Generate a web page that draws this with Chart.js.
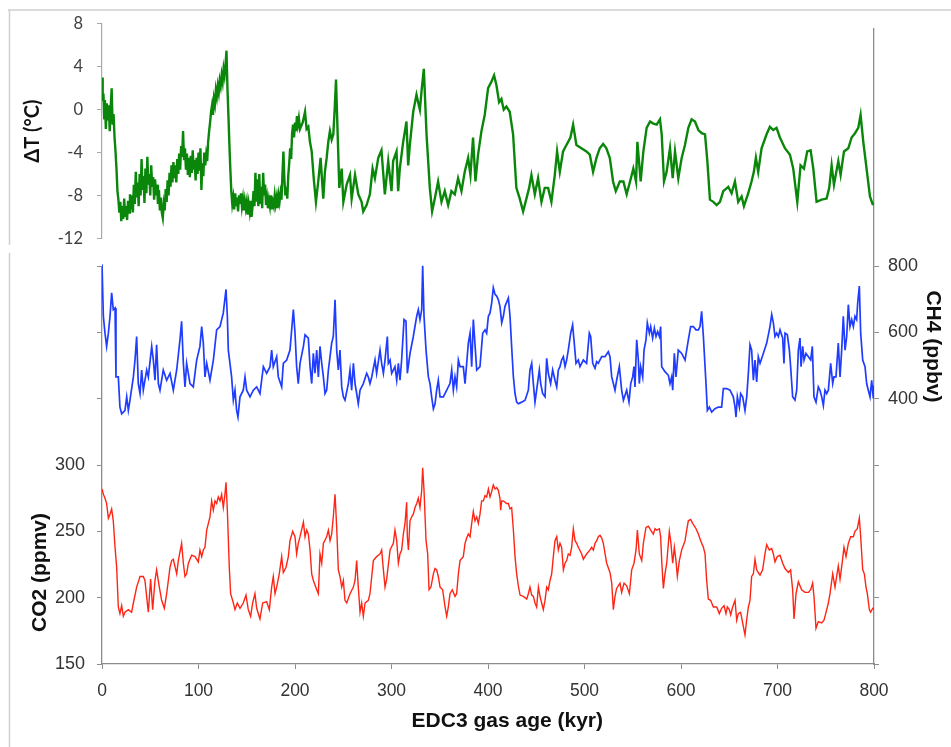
<!DOCTYPE html>
<html>
<head>
<meta charset="utf-8">
<title>EPICA Dome C: ΔT, CH4, CO2</title>
<script src="https://cdn.jsdelivr.net/npm/chart.js@4.4.1/dist/chart.umd.min.js"></script>
<style>
  html, body { margin: 0; padding: 0; background: #fff; }
  #chart { display: block; }
</style>
</head>
<body>
<canvas id="chart" width="951" height="747"></canvas>
<script>
// [age kyr, value]
const tempRecord = [
  [0,3.0],[0.7,0.8],[1.5,1.5],[2.3,-0.8],[3,0.9],[4,-1.8],[5,0.6],[6,-1.0],[7,0.4],[8,-2.0],[9,0.2],[10,2.0],
  [11,-1.4],[12,-0.4],[13,-2.6],[14,-3.9],[15,-5.5],[16,-7.6],[17,-8.4],[18,-9.6],[19,-8.6],[20,-10.4],
  [21,-9.0],[22,-10.2],[23,-8.3],[24,-10.0],[25,-9.0],[26,-10.3],[27,-8.5],[28,-9.6],[29,-7.9],[30,-9.3],
  [31,-8.0],[32,-9.6],[33,-7.0],[34,-8.8],[35,-5.8],[36,-8.2],[37,-6.8],[38,-9.0],[39,-6.0],[40,-8.0],
  [41,-4.6],[42,-7.5],[43,-6.2],[44,-8.7],[45,-5.5],[46,-7.8],[47,-4.4],[48,-7.0],[49,-6.0],[50,-8.0],
  [51,-5.2],[52,-7.2],[53,-6.3],[54,-8.4],[55,-6.5],[56,-8.0],[57,-7.0],[58,-8.8],[59,-7.5],[60,-9.4],
  [61,-8.2],[62,-9.6],[63,-10.1],[64,-8.8],[65,-9.4],[66,-7.4],[67,-8.6],[68,-6.6],[69,-8.0],[70,-5.9],
  [71,-7.2],[72,-5.2],[73,-6.8],[74,-4.9],[75,-6.4],[76,-5.2],[77,-6.8],[78,-4.6],[79,-6.0],[80,-4.1],
  [81,-5.6],[82,-3.4],[83,-4.4],[84,-2.0],[85,-4.6],[86,-3.6],[87,-5.6],[88,-4.1],[89,-6.1],[90,-4.5],
  [91,-6.3],[92,-4.3],[93,-5.9],[94,-3.8],[95,-5.6],[96,-4.7],[97,-6.6],[98,-4.5],[99,-6.0],[100,-4.0],
  [101,-5.7],[102,-3.6],[103,-7.5],[104,-5.0],[105,-6.2],[106,-4.0],[107,-5.2],[108,-4.2],[109,-4.8],[110,-3.0],
  [111,-2.0],[112,-1.2],[113,-0.2],[114,0.4],[115,-0.5],[116,1.0],[117,0.5],[118,1.8],[119,1.2],[120,2.2],
  [121,1.6],[122,2.7],[123,2.2],[124,3.2],[125,2.6],[126,3.8],[127,3.2],[128,4.2],[129,5.5],[130,2.0],
  [131,-0.5],[132,-3.2],[133,-5.6],[134,-7.6],[135,-8.8],[136,-8.2],[137,-9.3],[138,-7.8],[139,-9.0],[140,-8.2],
  [141,-9.5],[142,-8.0],[143,-8.8],[144,-7.8],[145,-9.0],[146,-8.3],[147,-9.4],[148,-8.5],[149,-9.2],[150,-8.6],
  [151,-9.8],[152,-8.8],[153,-9.5],[154,-8.5],[155,-10.0],[156,-9.0],[157,-7.6],[158,-9.0],[159,-5.9],[160,-8.6],
  [161,-6.5],[162,-9.0],[163,-6.0],[164,-8.8],[165,-7.2],[166,-9.2],[167,-5.9],[168,-8.0],[169,-7.0],[170,-8.9],
  [171,-8.2],[172,-9.2],[173,-8.4],[174,-9.0],[175,-8.0],[176,-9.3],[177,-8.6],[178,-9.0],[179,-8.0],[180,-8.8],
  [181,-8.2],[182,-9.2],[183,-8.0],[184,-8.6],[185,-7.8],[186,-8.4],[187,-6.0],[188,-3.9],[189,-6.5],[190,-8.0],
  [191,-7.2],[192,-8.3],[193,-6.2],[194,-5.0],[195,-3.6],[196,-4.6],[197,-2.2],[198,-1.4],[199,-2.6],[200,-1.2],
  [201,-2.0],[202,-0.6],[203,-1.4],[204,-0.8],[205.2,-1.8],[208,-1.2],[210.4,-0.2],[212,-1.8],[213.8,-1.6],
  [215.5,-3.0],[217.3,-3.9],[219.5,-6.5],[221.7,-8.6],[224.1,-6.7],[226.5,-4.5],[229.3,-8.3],[231,-5.8],
  [232.8,-4.5],[234.5,-3.0],[236.2,-2.0],[238,-2.8],[239.7,-2.3],[241.1,0.0],[242.5,2.8],[244.2,-2.3],
  [245.9,-7.3],[248.4,-5.5],[250.1,-8.6],[253.5,-7.0],[257,-6.1],[258.7,-8.3],[262.2,-6.1],[265.6,-7.9],
  [269,-8.6],[270.7,-9.5],[274.2,-8.9],[277.6,-7.9],[280.4,-5.5],[282.8,-6.4],[286.3,-4.5],[289.6,-3.8],
  [293.1,-7.9],[296.6,-4.8],[300,-7.6],[301.7,-4.8],[305.2,-3.9],[306.9,-7.6],[308.6,-5.5],[312.1,-3.0],
  [315.5,-1.1],[317.3,-5.2],[319,-3.3],[322.5,-0.2],[325.9,1.4],[327.6,0.7],[329.4,0.0],[331.1,1.7],
  [333.5,3.8],[336.3,-2.3],[339.7,-7.3],[342.1,-9.5],[344.9,-8.3],[348.3,-6.7],[351.8,-8.6],[355.2,-7.6],
  [358.7,-8.9],[362.1,-7.6],[365.6,-7.9],[369,-6.4],[372.5,-7.6],[375.9,-5.8],[379.4,-4.5],[381.8,-6.1],
  [384.5,-2.6],[387,-6.7],[389.7,-4.2],[393.2,-2.0],[396.6,-0.5],[400.1,2.0],[403.5,2.6],[406.3,3.2],
  [408.7,2.3],[411.5,0.7],[413.9,1.0],[416.3,0.0],[419.1,0.3],[422.5,-0.2],[426,-2.3],[429.4,-7.3],
  [432.9,-8.3],[436.4,-9.5],[439.8,-8.3],[442.6,-7.3],[445,-6.1],[448.5,-7.9],[451.9,-6.4],[455.4,-8.6],
  [458.8,-7.3],[462.3,-7.3],[465.7,-8.6],[469.2,-6.1],[471.6,-3.9],[474.4,-5.8],[477.8,-3.9],[481.3,-3.3],
  [485.4,-2.6],[488.2,-1.4],[491.6,-3.3],[496.8,-3.6],[502,-3.9],[505.5,-4.2],[508.9,-5.8],[512.4,-4.5],
  [515.8,-3.6],[519.3,-3.2],[522.7,-3.6],[526.2,-4.5],[529.6,-6.7],[532.4,-7.6],[536.6,-6.7],[540.3,-6.7],
  [543.7,-7.9],[547.2,-6.7],[550.6,-5.5],[553.4,-6.7],[554.8,-3.0],[558.2,-6.7],[561,-3.9],[564.4,-1.7],
  [567.9,-1.1],[571.3,-1.3],[574.8,-1.4],[578.2,-0.9],[580,-2.3],[582.4,-6.7],[585.1,-5.8],[588.6,-3.6],
  [591.4,-6.4],[593.8,-3.9],[597.2,-6.4],[600.7,-4.5],[604.1,-3.3],[607.6,-1.7],[611,-0.9],[614.5,-1.1],
  [618,-1.9],[621.4,-2.2],[624.9,-2.3],[627.3,-4.8],[630,-8.4],[633.5,-8.6],[636.9,-8.9],[640.4,-8.6],
  [643.8,-7.6],[649,-7.2],[652.4,-7.8],[655.9,-6.7],[659.3,-8.6],[662.8,-8.1],[665.2,-9.0],[669.7,-7.8],
  [673.1,-6.7],[675.5,-5.8],[677.6,-4.5],[680,-5.8],[683.5,-3.6],[688.7,-2.3],[692.1,-1.6],[695.6,-1.9],
  [699,-1.7],[702.5,-2.6],[707.7,-3.6],[712.9,-4.2],[716.3,-5.5],[720.5,-8.6],[723.9,-5.2],[727.4,-5.5],
  [730.8,-3.9],[734.3,-3.8],[737.1,-5.5],[740.5,-8.6],[745.7,-8.4],[750.9,-8.3],[753.6,-7.3],[756.1,-5.2],
  [758.5,-7.0],[763,-4.8],[765.4,-6.1],[768.9,-3.9],[773.4,-3.6],[776.8,-2.6],[780.3,-2.2],[783.7,-1.7],
  [786.1,-0.5],[788.9,-3.0],[792.3,-5.5],[795.8,-8.1],[798.5,-8.8],[800,-8.8]
];

const ch4Record = [
  [0,806],[1.4,649],[3.1,598],[4.8,558],[6.6,598],[8.3,649],[10,720],[11.7,669],[13.5,674],[14.5,466],
  [16.9,466],[18.6,375],[20.4,355],[23.8,365],[25.6,406],[27.3,365],[29,396],[32.5,466],[34.2,517],[35.9,588],
  [37.6,446],[39.4,416],[41.1,487],[42.8,426],[46.3,487],[48,466],[51.5,558],[53.2,517],[54.9,456],[56.6,563],
  [58.4,446],[60.1,426],[63.5,487],[67,456],[70.5,477],[73.9,426],[77.4,487],[80.8,578],[82.5,634],[84.3,507],
  [86,436],[87.7,507],[91.2,446],[94.6,436],[98.1,517],[101.5,558],[103.3,618],[105,568],[106.7,466],[108.5,507],
  [111.9,456],[115.4,517],[118.8,608],[122.3,618],[125.7,659],[128.5,730],[129.9,649],[130.9,547],[132.6,507],
  [134.3,466],[136.1,396],[137.8,426],[139.5,365],[140.9,345],[143,406],[146.4,426],[148.2,466],[149.9,426],
  [153.4,406],[156.8,426],[160.3,436],[163.7,416],[167.2,497],[170.6,477],[174.1,497],[175.8,547],[177.5,497],
  [181,527],[182.7,466],[186.2,436],[187.9,507],[191.4,517],[194.8,547],[198.3,669],[200,598],[201.7,497],
  [203.4,446],[205.2,507],[208.7,558],[210.4,593],[213.8,583],[215.6,497],[217.3,446],[219,537],[220.7,477],
  [222.5,547],[224.2,466],[225.9,558],[227.7,507],[229.4,466],[231.1,416],[232.8,426],[234.6,487],[236.3,527],
  [238,568],[239.7,588],[241.5,699],[243.2,547],[244.9,487],[246.6,547],[248.4,436],[250.1,406],[251.8,396],
  [255.3,446],[257,487],[258.7,426],[260.5,507],[262.2,446],[263.9,416],[265.6,385],[267.4,426],[270.8,446],
  [274.3,477],[276,466],[277.7,446],[279.5,466],[282.9,517],[284.6,477],[288.1,547],[289.8,507],[291.6,477],
  [293.3,517],[295.7,588],[296.7,507],[298.5,517],[300.2,477],[303.6,497],[305.4,456],[307.1,507],[308.8,456],
  [310.5,517],[313,639],[315,634],[316.4,477],[319.2,537],[322.6,588],[326.1,649],[327.8,669],[329.5,639],
  [331.3,669],[332.3,801],[333.7,649],[335.8,547],[338.2,466],[339.9,446],[341.6,406],[343.4,370],[345.1,385],
  [346.8,426],[348.5,456],[350.3,406],[353.7,406],[357.2,426],[360.6,446],[362.4,487],[364.1,426],[365.8,466],
  [367.5,436],[369.3,517],[371,497],[374.4,497],[376.2,446],[379.6,568],[381.4,598],[383.1,497],[384.8,639],
  [388.3,487],[391.7,497],[394.5,598],[396.9,608],[398.6,598],[400.4,649],[402.1,659],[403.8,689],[405.5,735],
  [407.3,715],[409,710],[410.7,699],[412.4,679],[414.2,629],[415.9,649],[417.6,679],[421.1,704],[422.8,649],
  [424.5,558],[426.3,466],[428,416],[429.7,390],[431.4,385],[434.9,390],[438.4,396],[441.8,426],[443.5,487],
  [445.3,507],[447,446],[448.7,390],[450.4,426],[453.2,487],[454.6,446],[456.6,416],[459.1,406],[460.8,522],
  [462.5,477],[464.9,446],[467,487],[469.4,456],[471.2,436],[472.9,487],[474.6,497],[476.3,517],[478.1,527],
  [479.8,497],[481.5,517],[483.2,547],[485.7,598],[487.7,623],[489.1,578],[491.2,507],[493.6,517],[495.3,497],
  [498.8,517],[502.2,507],[505,598],[506.4,588],[508.5,507],[510.9,492],[512.6,512],[514.3,507],[517.8,527],
  [521.2,527],[524.7,542],[526.4,527],[528.2,466],[529.9,446],[531.6,426],[533.3,456],[536.1,497],[538.5,426],
  [540.3,396],[543.7,426],[546.1,390],[547.9,446],[549.9,466],[551.3,497],[552.3,436],[554.1,578],[555.8,517],
  [556.8,446],[558.2,497],[560.3,466],[561.7,547],[563.7,578],[565.1,629],[567.2,598],[568.6,618],[570.6,583],
  [572.4,613],[574.1,588],[575.8,603],[577.6,588],[578.9,618],[580,497],[583.4,482],[586.9,471],[588.6,446],
  [590.3,466],[591.4,426],[593.1,537],[594.8,466],[597.2,547],[600.7,537],[604.2,517],[607.6,578],[610,618],
  [612.8,618],[615.5,608],[618,608],[619.7,618],[621.4,664],[623.2,588],[625.9,446],[627.3,365],[629.4,375],
  [631.8,360],[635.2,370],[638.7,375],[642.1,375],[643.9,431],[647.3,431],[650.8,426],[654.2,406],[656,375],
  [657,345],[658.4,406],[660.5,375],[661.8,416],[663.9,406],[666.3,365],[668.1,406],[669.8,477],[671.5,563],
  [673.2,547],[675,456],[676.7,517],[678.4,451],[680.1,527],[681.9,507],[685.3,537],[688.8,568],[692.2,618],
  [694,654],[695.7,629],[697.4,588],[699.1,598],[700.9,588],[702.6,608],[705.4,583],[706.7,507],[707.8,598],
  [710.2,593],[712.3,547],[713.6,497],[715.7,406],[718.1,396],[719.9,426],[721.6,547],[723.3,583],[724.4,497],
  [726.1,558],[727.5,517],[729.5,537],[732,527],[734.4,517],[736.1,558],[737.8,406],[739.9,390],[742.3,436],
  [744,426],[745.8,406],[747.5,380],[749.2,426],[751,416],[752.7,426],[755.1,507],[757.2,446],[758.5,466],
  [760.6,466],[763,568],[764.8,466],[766.5,547],[768.2,649],[770,547],[771.7,588],[773.4,684],[775.1,618],
  [776.9,639],[778.6,618],[780.3,649],[782,639],[783.1,689],[784.8,740],[786.2,598],[788.3,517],[790.7,497],
  [792.4,446],[794.1,426],[795.9,406],[797.6,456],[799.3,401],[800,440]
];

const co2Record = [
  [0,282],[1.4,278],[3.1,275],[4.8,271],[6.6,260],[8.3,263],[10,267],[11.7,258],[13.5,238],[15.2,223],
  [16.9,193],[18.6,188],[20.4,194],[22.1,186],[23.8,189],[27.3,191],[30.7,189],[32.5,196],[35.9,208],[39.4,216],
  [42.8,216],[44.5,213],[48,189],[50.4,214],[52.5,191],[54.9,213],[56.6,221],[59.4,208],[61.8,198],[64.6,192],
  [67,203],[70.5,223],[72.2,228],[73.9,229],[77.4,218],[79.1,228],[82.5,241],[84.3,226],[86,216],[87.7,218],
  [89.5,226],[92.9,232],[96.4,231],[99.8,227],[101.5,236],[103.3,231],[105,236],[106.7,238],[108.5,251],
  [111.9,261],[113.6,273],[115.4,266],[117.1,273],[118.8,271],[120.5,276],[122.3,273],[124,278],[125.7,268],
  [127.4,278],[128.5,287],[129.9,266],[131.9,223],[133.3,203],[136.1,196],[137.8,191],[140.2,196],[143,192],
  [146.4,196],[149.2,202],[151.6,191],[154,186],[156.1,196],[158.5,203],[160.3,192],[163.7,184],[166.5,196],
  [170.6,197],[173.4,191],[175.8,208],[177.5,216],[179.3,203],[181,208],[183.7,218],[186.2,231],[187.9,219],
  [190.7,223],[193.1,231],[194.8,243],[197.6,250],[200,246],[201.7,233],[203.4,241],[205.2,246],[208.7,257],
  [210.4,246],[212.1,251],[213.8,248],[215.6,236],[217.3,218],[219,213],[222.5,206],[224.2,203],[225.9,233],
  [227.7,226],[229.4,241],[232.8,246],[234.6,251],[236.3,243],[238,248],[239.7,261],[241.5,278],[243.2,253],
  [244.9,221],[246.6,216],[248.4,208],[250.1,213],[251.8,198],[253.6,196],[257,203],[260.5,208],[262.2,213],
  [263.9,228],[265.6,208],[267.4,189],[269.1,196],[270.8,186],[272.6,196],[276,198],[277.7,203],[281.2,228],
  [284.6,231],[288.1,233],[289.8,236],[291.6,221],[293.3,208],[295,214],[298.5,236],[301.9,241],[303.6,251],
  [305.4,243],[307.1,226],[308.8,233],[310.5,236],[312.3,248],[314,256],[315.7,272],[316.4,246],[317.5,236],
  [319.2,258],[320.9,261],[322.6,263],[324.4,268],[326.1,271],[327.8,275],[329.5,268],[331.3,281],[332.3,298],
  [333.7,281],[335.8,243],[337.5,233],[338.9,206],[340.9,208],[343.4,218],[345.1,222],[346.8,221],[348.5,216],
  [350.3,208],[353,206],[355.5,193],[357.2,186],[358.9,193],[360.6,203],[363,206],[365.8,201],[367.5,203],
  [369.3,218],[371,228],[374.4,231],[376.2,241],[377.9,245],[379.6,248],[381.4,246],[383.1,256],[384.8,265],
  [386.5,258],[388.3,261],[390,256],[391.7,263],[393.4,273],[395.2,273],[396.9,277],[398.6,276],[400.4,282],
  [402.1,276],[403.8,280],[405.5,285],[407.3,282],[409,283],[410.7,281],[412.4,275],[413.1,266],[414.2,273],
  [415.9,273],[417.6,272],[419.3,271],[421.1,271],[422.8,267],[424.5,268],[426.3,251],[428,231],[429.7,218],
  [431.4,209],[433.2,202],[436.6,201],[440.1,199],[441.8,203],[443.5,208],[445.3,202],[447,201],[448.7,196],
  [450.4,193],[452.2,208],[453.9,201],[455.6,196],[457.3,191],[459.1,198],[460.8,208],[462.5,206],[464.3,213],
  [466,218],[467.7,231],[469.4,243],[471.2,246],[472.9,236],[474.6,241],[476.3,238],[478.1,221],[479.8,226],
  [481.5,228],[483.2,233],[485,232],[486.7,238],[488.4,252],[490.2,243],[491.9,241],[493.6,238],[497.1,233],
  [498.8,229],[502.2,233],[505.7,236],[507.4,238],[509.2,236],[510.9,241],[512.6,243],[514.3,246],[516.1,247],
  [517.8,245],[519.5,241],[523,226],[526.4,219],[528.2,211],[529.9,191],[531.6,201],[533.3,207],[536.8,211],
  [538.5,204],[541,211],[543.7,209],[546.5,203],[548.9,221],[551.3,226],[553.4,236],[554.8,251],[556.8,233],
  [559.3,228],[561,241],[563.7,253],[566.2,254],[568.6,251],[571.3,248],[573.1,252],[574.8,251],[577.6,252],
  [578.9,246],[580,228],[581.7,207],[583.4,218],[585.2,226],[587.9,250],[589.3,243],[591.4,226],[593.1,238],
  [594.8,228],[596.2,216],[598.3,228],[600.7,236],[604.2,243],[605.9,251],[607.6,258],[610,259],[612.1,256],
  [615.6,252],[618,248],[620.4,243],[623.2,238],[624.9,233],[626.6,213],[628.3,199],[630.7,198],[633.5,193],
  [637,193],[639.7,188],[642.1,192],[644.6,194],[646.6,188],[648,193],[650.1,191],[651.5,187],[653.5,193],
  [656,198],[657.7,183],[659.4,188],[661.8,189],[663.9,181],[666.3,172],[668,183],[669.8,193],[671.5,198],
  [673.2,216],[675,218],[676.7,229],[678.4,221],[680.1,219],[681.9,217],[684.6,221],[687,233],[688.8,240],
  [691.5,236],[694,237],[695.7,233],[697.4,227],[699.8,231],[702.6,232],[705.4,226],[707.8,222],[711.2,219],
  [713.6,221],[715.7,206],[717.1,184],[719.2,203],[721.6,212],[725,206],[728.5,204],[732,204],[734.4,206],
  [736.4,211],[737.8,201],[739.9,177],[742.3,182],[745.8,181],[748.2,183],[751,191],[752.7,196],[754.4,203],
  [757.2,218],[759.6,208],[761.3,216],[763,224],[764.8,214],[766.5,223],[768.9,238],[771,231],[773.4,241],
  [775.8,246],[778.6,246],[780.3,250],[782.7,252],[784.8,260],[786.2,246],[788.3,221],[790,218],[791.7,208],
  [793.1,203],[795.2,191],[796.5,189],[798.6,192],[800,191]
];

const ageTicks = [0, 100, 200, 300, 400, 500, 600, 700, 800];
const tempTicks = [-12, -8, -4, 0, 4, 8];
const ch4Ticks = [400, 600, 800];
const ch4Marks = [-400, -200, 0, 200, 400, 600, 800];
const co2Ticks = [150, 200, 250, 300];
const co2Marks = [150, 200, 250, 300, 350, 400, 450];

Chart.defaults.font.family = '"Liberation Sans", Arial, sans-serif';

const axisGrey = '#8c8c8c';
const lightGrey = '#a9a9a9';

function useTicks(values) {
  return function (scale) {
    scale.ticks = values.map((v) => ({ value: v }));
  };
}

function toPoints(record) {
  return record.map(([x, y]) => ({ x: x, y: y }));
}

// light frame left over from the original composite picture
const frame = {
  id: 'frame',
  beforeDraw(chart) {
    const ctx = chart.ctx;
    ctx.save();
    ctx.strokeStyle = '#d0d0d0';
    ctx.lineWidth = 1.5;
    ctx.beginPath();
    ctx.moveTo(8, 10);
    ctx.lineTo(951, 10);
    ctx.moveTo(9.5, 10);
    ctx.lineTo(9.5, 245);
    ctx.moveTo(9.5, 253);
    ctx.lineTo(9.5, 747);
    ctx.stroke();
    ctx.restore();
  },
};

// CO2 and age titles sit off-centre in the original, so they are placed by hand
const looseTitles = {
  id: 'looseTitles',
  afterDraw(chart) {
    const { ctx, scales } = chart;
    ctx.save();
    ctx.fillStyle = '#111';
    ctx.font = 'bold 21px "Liberation Sans", Arial, sans-serif';
    ctx.textAlign = 'center';
    ctx.textBaseline = 'middle';
    ctx.fillText('EDC3 gas age (kyr)', scales.x.getPixelForValue(420), scales.x.bottom - 26);
    ctx.translate(40, scales.co2.getPixelForValue(219));
    ctx.rotate(-Math.PI / 2);
    ctx.fillText('CO2 (ppmv)', 0, 0);
    ctx.restore();
  },
};

new Chart(document.getElementById('chart'), {
  type: 'line',
  data: {
    datasets: [
      {
        label: 'ΔT',
        data: toPoints(tempRecord),
        yAxisID: 'temp',
        borderColor: '#0a870a',
        borderWidth: 2.4,
      },
      {
        label: 'CH4',
        data: toPoints(ch4Record),
        yAxisID: 'ch4',
        borderColor: '#1f3cff',
        borderWidth: 1.7,
      },
      {
        label: 'CO2',
        data: toPoints(co2Record),
        yAxisID: 'co2',
        borderColor: '#ff2414',
        borderWidth: 1.4,
      },
    ],
  },
  options: {
    responsive: false,
    animation: false,
    events: [],
    layout: { padding: { top: 22, left: 0, right: 0, bottom: 0 } },
    elements: {
      point: { radius: 0 },
      line: { tension: 0, fill: false },
    },
    plugins: {
      legend: { display: false },
      tooltip: { enabled: false },
    },
    scales: {
      x: {
        type: 'linear',
        position: 'bottom',
        min: 0,
        max: 800,
        afterBuildTicks: useTicks(ageTicks),
        afterFit: (s) => { s.height = 83; },
        border: { color: axisGrey, width: 1.3 },
        grid: { drawOnChartArea: false, tickLength: 5, color: axisGrey },
        ticks: { padding: 12, color: '#333', maxRotation: 0, font: { size: 17.5 } },
      },
      temp: {
        type: 'linear',
        position: 'left',
        stack: 'left',
        stackWeight: 215,
        weight: 3,
        min: -12,
        max: 8,
        afterBuildTicks: useTicks(tempTicks),
        afterFit: (s) => { s.width = 102; },
        border: { color: lightGrey, width: 1.2 },
        grid: { drawOnChartArea: false, tickLength: 5, color: lightGrey },
        ticks: { padding: 14, color: '#404040', font: { family: 'Lato', size: 16.5 } },
        title: {
          display: true,
          text: 'ΔT (°C)',
          color: '#111',
          padding: { top: 21, bottom: 0 },
          font: { family: 'Lato', size: 20, weight: 'bold' },
        },
      },
      gap: {
        type: 'linear',
        position: 'left',
        stack: 'left',
        stackWeight: 28,
        weight: 2,
        afterFit: (s) => { s.width = 102; },
        border: { display: false },
        grid: { display: false },
        ticks: { display: false },
      },
      co2: {
        type: 'linear',
        position: 'left',
        stack: 'left',
        stackWeight: 399,
        weight: 1,
        min: 150,
        max: 450,
        afterBuildTicks: useTicks(co2Marks),
        afterFit: (s) => { s.width = 102; },
        border: { color: axisGrey, width: 1.3 },
        grid: { drawOnChartArea: false, tickLength: 5, color: axisGrey },
        ticks: {
          padding: 12,
          color: '#333',
          font: { size: 18 },
          callback: (v) => (co2Ticks.includes(v) ? v : ''),
        },
      },
      cap: {
        type: 'linear',
        position: 'right',
        stack: 'right',
        stackWeight: 5,
        weight: 1,
        afterFit: (s) => { s.width = 77; },
        border: { display: false },
        grid: { display: false },
        ticks: { display: false },
      },
      ch4: {
        type: 'linear',
        position: 'right',
        stack: 'right',
        stackWeight: 637,
        weight: 2,
        min: -400,
        max: 1516,
        afterBuildTicks: useTicks(ch4Marks),
        afterFit: (s) => { s.width = 77; },
        border: { color: axisGrey, width: 1.3 },
        grid: { drawOnChartArea: false, tickLength: 5, color: axisGrey },
        ticks: {
          padding: 9,
          color: '#333',
          font: { size: 18 },
          callback: (v) => (ch4Ticks.includes(v) ? v : ''),
        },
        title: {
          display: true,
          text: 'CH4 (ppbv)',
          color: '#111',
          padding: { top: 6, bottom: 0 },
          font: { size: 21, weight: 'bold' },
        },
      },
    },
  },
  plugins: [frame, looseTitles],
});
</script>
</body>
</html>
